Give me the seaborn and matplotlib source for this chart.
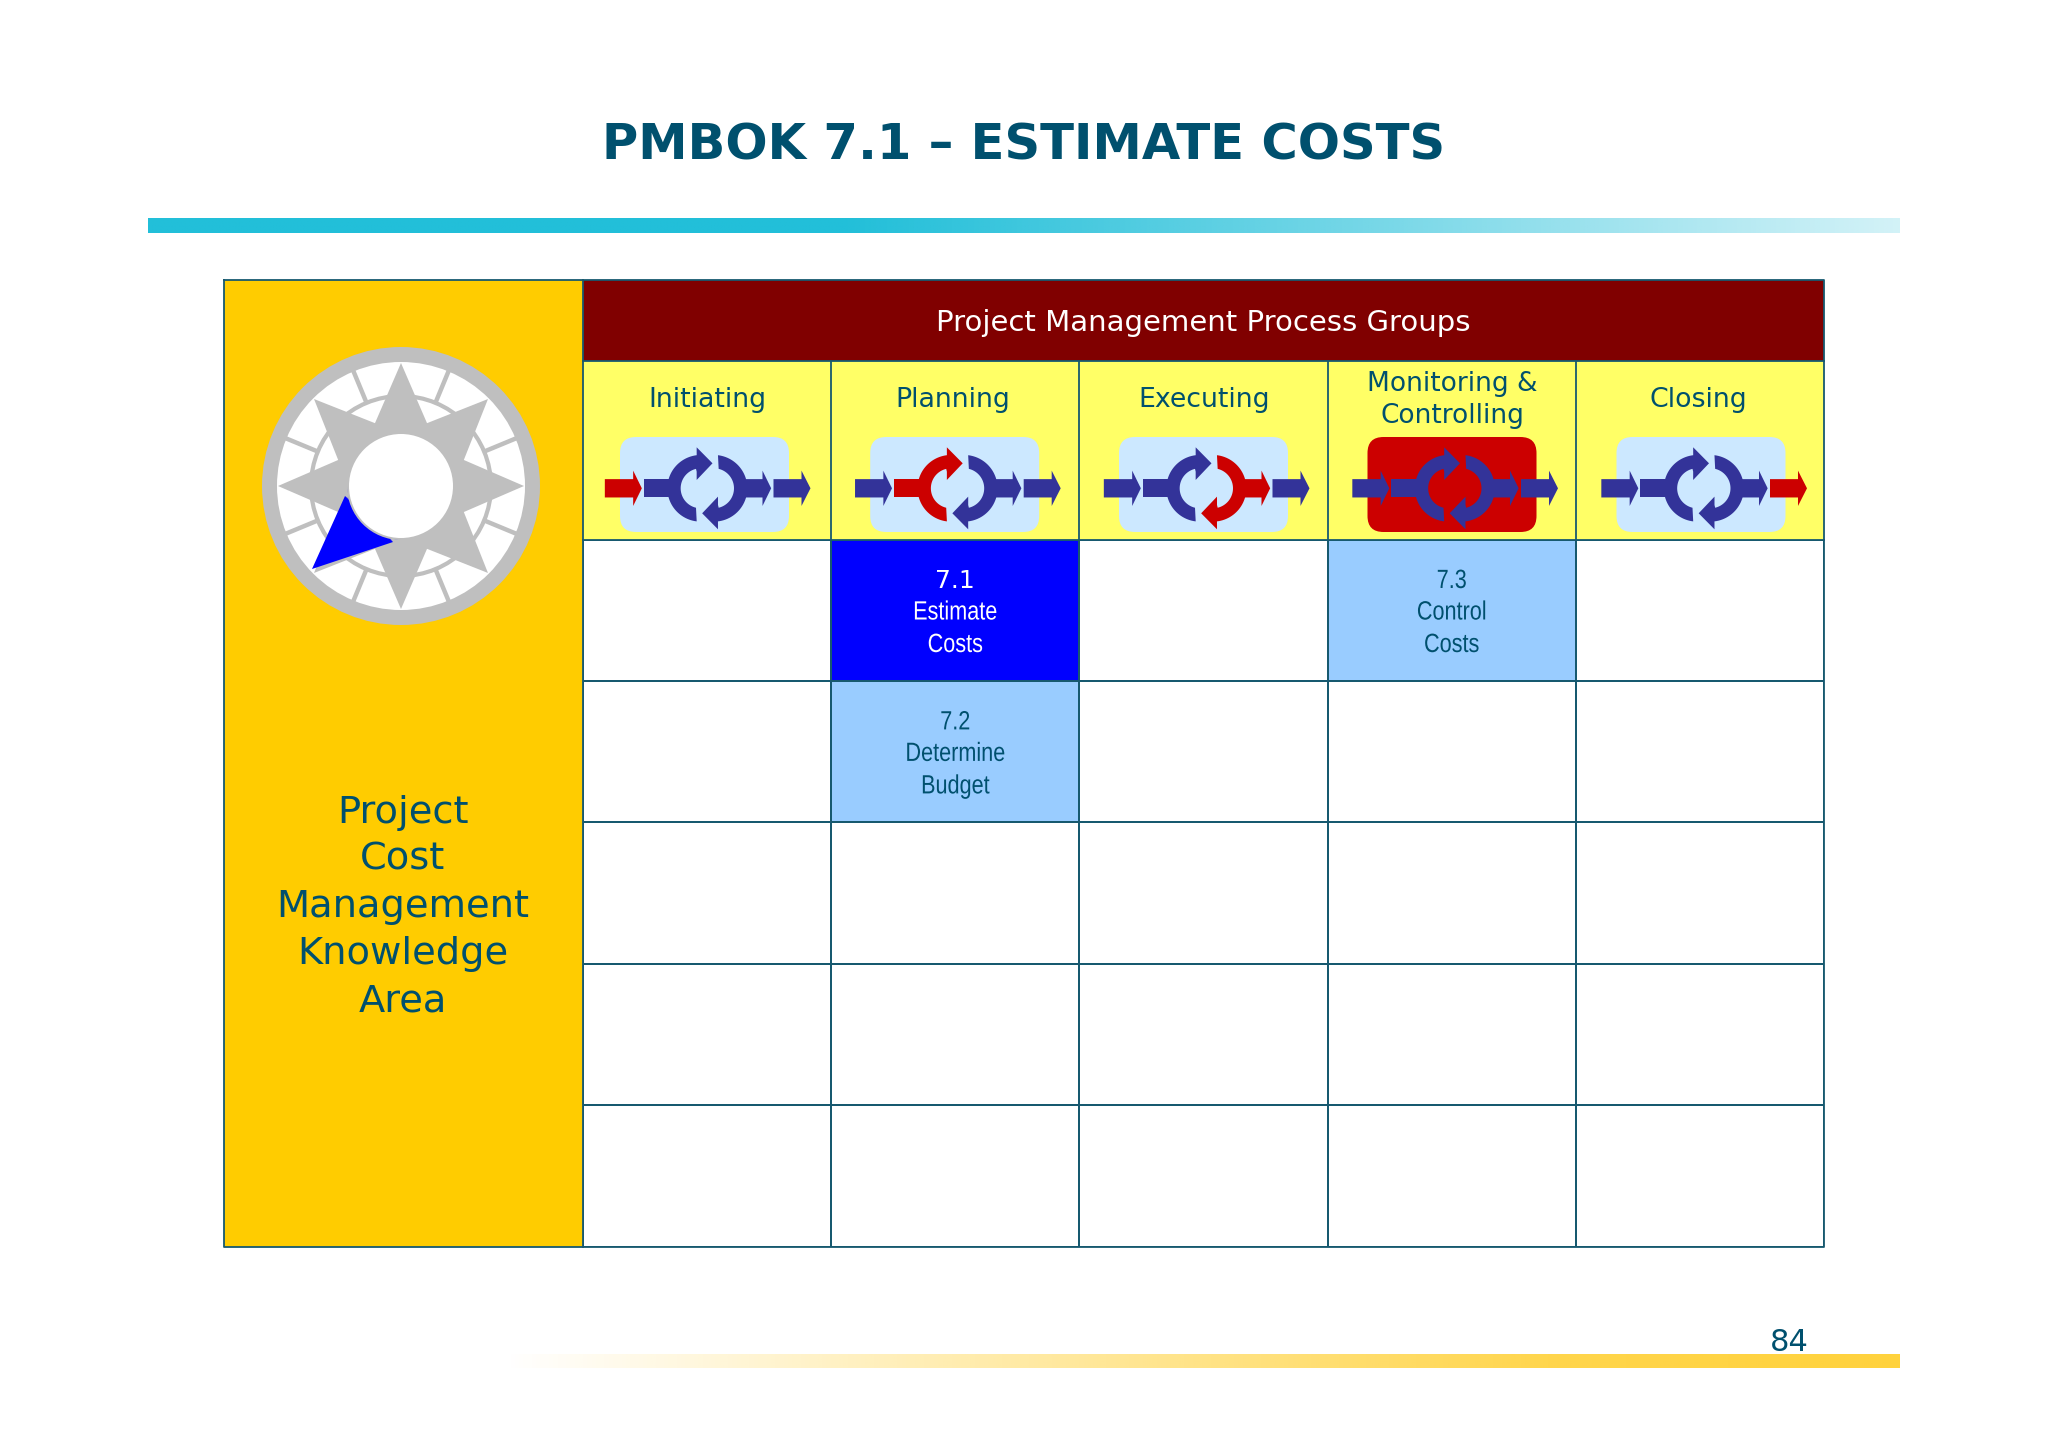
import numpy as np
import matplotlib
matplotlib.use("Agg")
import matplotlib.pyplot as plt
from matplotlib.colors import ListedColormap, to_rgb
from matplotlib.patches import Rectangle, Circle, Polygon, FancyBboxPatch
from matplotlib.patheffects import AbstractPathEffect
from matplotlib.transforms import Affine2D
import seaborn as sns

# ---- content ----
TITLE = "PMBOK 7.1 \u2013 ESTIMATE COSTS"
BANNER = "Project Management Process Groups"
GROUPS = ["Initiating", "Planning", "Executing", "Monitoring &\nControlling", "Closing"]
KNOWLEDGE = ["Project", "Cost", "Management", "Knowledge", "Area"]
PAGE = "84"
# cell state per row/column: 0 empty, 1 current process, 2 related process
CELL_STATE = [[0, 1, 0, 2, 0],
              [0, 2, 0, 0, 0],
              [0, 0, 0, 0, 0],
              [0, 0, 0, 0, 0],
              [0, 0, 0, 0, 0]]
PROCESSES = [(0, 1, "7.1", "Estimate", "Costs"),
             (0, 3, "7.3", "Control", "Costs"),
             (1, 1, "7.2", "Determine", "Budget")]
# which icon part is highlighted per group
ICON_RED = ["in", "left", "right", "box", "out"]

# ---- palette ----
INK = "#00506E"
LINE = "#17596F"
GOLD = "#FFCC00"
MAROON = "#800000"
YELLOW = "#FFFF66"
NAVY = "#333399"
RED = "#CC0000"
PALE = "#CCE8FF"
BLUE = "#0000FF"
SKY = "#99CCFF"
GREY = "#BFBFBF"

sns.set_theme(style="white")
plt.rcParams["font.family"] = ["DejaVu Sans"]
W, H = 2048, 1447
fig = plt.figure(figsize=(W / 100, H / 100), dpi=100, facecolor="white")

ax = fig.add_axes([0, 0, 1, 1], zorder=1)
ax.set_xlim(0, W); ax.set_ylim(H, 0); ax.axis("off")

# Table frame
X0, X1, XE = 224, 583, 1824
Y0, Y1, Y2, YE = 280, 361, 539.5, 1246.5
colw = (XE - X1) / 5
ICON_CX = [704.5, 954.7, 1203.5, 1452, 1701]
ICON_CY = 488.3
LABEL_CX = [707, 953, 1204, 1452, 1698]


def gradient(x0, x1, y0, y1, stops, color):
    xs, al = zip(*stops)
    t = np.linspace(0, 1, 512)
    a = np.interp(t, xs, al)
    rgba = np.zeros((1, 512, 4))
    rgba[0, :, :3] = to_rgb(color)
    rgba[0, :, 3] = a
    ax.imshow(rgba, extent=(x0, x1, y1, y0), aspect="auto", zorder=2, interpolation="bilinear")


gradient(148, 1900, 218, 233, [(0, 1), (0.4, 1), (0.7, 0.62), (1, 0.2)], "#22BFD9")
gradient(505, 1900, 1354, 1368, [(0, 0), (0.25, 0.32), (0.5, 0.62), (0.75, 0.92), (1, 1)], "#FFD23C")
ax.set_xlim(0, W); ax.set_ylim(H, 0)

ax.add_patch(Rectangle((X0, Y0), X1 - X0, YE - Y0, fc=GOLD, ec="none", zorder=3))
ax.add_patch(Rectangle((X1, Y0), XE - X1, Y1 - Y0, fc=MAROON, ec="none", zorder=3))
ax.add_patch(Rectangle((X1, Y1), XE - X1, Y2 - Y1, fc=YELLOW, ec="none", zorder=3))

# Compass
cx, cy = 401, 486
ax.add_patch(Circle((cx, cy), 139, fc=GREY, ec="none", zorder=4))
ax.add_patch(Circle((cx, cy), 124, fc="white", ec="none", zorder=4))
for a in np.deg2rad(np.arange(22.5, 360, 45)):
    ax.plot([cx + 90 * np.cos(a), cx + 125 * np.cos(a)], [cy + 90 * np.sin(a), cy + 125 * np.sin(a)],
            color=GREY, lw=3.2, solid_capstyle="butt", zorder=5)
ax.add_patch(Circle((cx, cy), 90, fc="none", ec=GREY, lw=3, zorder=5))
ang = np.deg2rad(np.arange(0, 360, 22.5))
rad = np.where(np.arange(16) % 2 == 0, 123, 68)
ax.add_patch(Polygon(np.c_[cx + rad * np.cos(ang), cy + rad * np.sin(ang)], fc=GREY, ec="none", zorder=6))
ax.add_patch(Polygon([(312, 569), (345, 496), (393, 542)], fc=BLUE, ec="none", zorder=7))
# concave inner side of the needle
th = np.deg2rad(np.linspace(90, 180, 30))
ax.add_patch(Polygon(np.r_[[(345, 496)], np.c_[cx + 53.5 * np.cos(th), cy + 53.5 * np.sin(th)], [(393, 542)]],
                     fc=BLUE, ec="none", zorder=7))
ax.add_patch(Circle((cx, cy), 54, fc=GREY, ec="none", zorder=8))
ax.add_patch(Circle((cx, cy), 52, fc="white", ec="none", zorder=9))


def arrow_pts(x0, x1, tip):
    return [(x0, -27.5), (x1, -27.5), (x1, -53), (tip, 0), (x1, 53), (x1, 27.5), (x0, 27.5)]


def c_shape():
    t_out = np.linspace(np.arctan2(100, -12), np.arctan2(-100, -12) + 2 * np.pi, 50)
    outer = np.c_[-20 + 100 * np.cos(t_out), 100 * np.sin(t_out)]
    t_in = np.linspace(np.arctan2(-50, -12) + 2 * np.pi, np.arctan2(50, -12), 40)
    inner = np.c_[-20 + 60 * np.cos(t_in), 60 * np.sin(t_in)]
    head = np.array([(-32, -123), (15.5, -75), (-32, -25), (-32, -50)])
    return np.r_[outer, head, inner]


def icon(cx0, mode):
    fc = RED if mode == "box" else PALE
    ax.add_patch(FancyBboxPatch((cx0 - 84.5, ICON_CY - 51.3), 169, 95,
                                boxstyle="round,pad=0,rounding_size=16", fc=fc, ec="none", zorder=4))
    px, py = cx0 + 2.83, ICON_CY

    def draw(pts, color):
        pts = np.asarray(pts, dtype=float) / 3
        ax.add_patch(Polygon(np.c_[px + pts[:, 0], py + pts[:, 1]], fc=color, ec="none", zorder=5))

    draw(arrow_pts(-307.5, -222.5, -196.5), RED if mode == "in" else NAVY)
    col_l = RED if mode == "left" else NAVY
    draw([(-190.5, -27.5), (-110, -27.5), (-110, 27.5), (-190.5, 27.5)], col_l)
    draw(c_shape(), col_l)
    col_r = RED if mode == "right" else NAVY
    draw(arrow_pts(110, 165.5, 191.5), col_r)
    draw(-c_shape(), col_r)
    draw(arrow_pts(198.5, 282.5, 309.5), RED if mode == "out" else NAVY)


for c, m in zip(ICON_CX, ICON_RED):
    icon(c, m)

# Body grid as a seaborn heatmap
axh = fig.add_axes([X1 / W, 1 - YE / H, (XE - X1) / W, (YE - Y2) / H], zorder=2)
sns.heatmap(np.array(CELL_STATE), ax=axh, cmap=ListedColormap(["white", BLUE, SKY]), vmin=0, vmax=2,
            cbar=False, linewidths=1.2, linecolor=LINE, xticklabels=False, yticklabels=False, square=False)
axh.tick_params(left=False, bottom=False)

# Overlay for frame lines and text
axt = fig.add_axes([0, 0, 1, 1], zorder=3)
axt.set_xlim(0, W); axt.set_ylim(H, 0); axt.axis("off"); axt.patch.set_alpha(0)
lk = dict(color=LINE, lw=1.3, solid_capstyle="projecting")
axt.plot([X0, XE, XE, X0, X0], [Y0, Y0, YE, YE, Y0], **lk)
axt.plot([X1, X1], [Y0, YE], **lk)
axt.plot([X1, XE], [Y1, Y1], **lk)
axt.plot([X1, XE], [Y2, Y2], **lk)
for i in range(1, 5):
    axt.plot([X1 + i * colw] * 2, [Y1, Y2], **lk)


class Narrow(AbstractPathEffect):
    """Draw a text horizontally condensed about its centre."""

    def __init__(self, centre, factor):
        super().__init__()
        self.centre, self.factor = centre, factor

    def draw_path(self, renderer, gc, tpath, affine, rgbFace=None):
        squeeze = Affine2D().translate(-self.centre, 0).scale(self.factor, 1).translate(self.centre, 0)
        renderer.draw_path(gc, tpath, affine + squeeze, rgbFace)


def narrow_text(x, y, s, size, color):
    axt.text(x, y, s, fontsize=size, color=color, ha="center", va="baseline",
             family="Liberation Sans", path_effects=[Narrow(x, 0.82)])


tk = dict(ha="center", va="baseline")
axt.text(1024, 160, TITLE, fontsize=35.7, fontweight="bold", color=INK, **tk)
axt.text(1203, 330.7, BANNER, fontsize=21, color="white", **tk)
for x, g in zip(LABEL_CX, GROUPS):
    if "\n" in g:
        a, b = g.split("\n")
        axt.text(x, 390.7, a, fontsize=19, color=INK, **tk)
        axt.text(x, 422.7, b, fontsize=19, color=INK, **tk)
    else:
        axt.text(x, 406.7, g, fontsize=19.3, color=INK, **tk)
for y, s in zip([823, 870, 917, 964, 1011], KNOWLEDGE):
    axt.text(403, y, s, fontsize=27.6, color=INK, **tk)
for r, c, num, l1, l2 in PROCESSES:
    col = "white" if CELL_STATE[r][c] == 1 else INK
    x = X1 + (c + 0.5) * colw
    top = Y2 + r * (YE - Y2) / 5
    if CELL_STATE[r][c] == 1:
        axt.text(x, top + 48.5, num, fontsize=18, color=col, **tk)
    else:
        narrow_text(x, top + 48.5, num, 19, col)
    narrow_text(x, top + 80, l1, 19, col)
    narrow_text(x, top + 112.5, l2, 19, col)
axt.text(1789, 1351, PAGE, fontsize=22, color=INK, **tk)

fig.savefig("out.png", dpi=100)
